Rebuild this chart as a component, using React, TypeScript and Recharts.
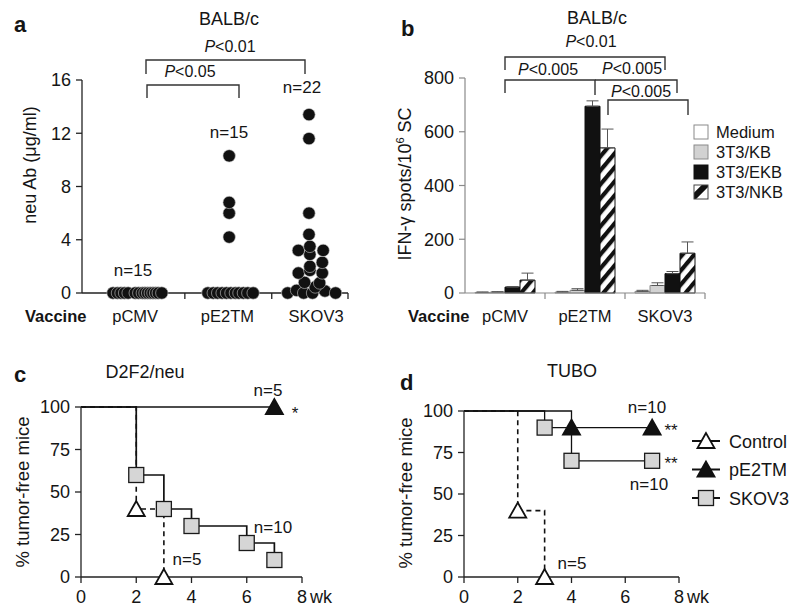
import React from "react"
import {
  ScatterChart,
  Scatter,
  BarChart,
  Bar,
  ErrorBar,
  LineChart,
  Line,
  XAxis,
  YAxis,
} from "recharts"

const FONT = '"Liberation Sans", Arial, Helvetica, sans-serif'
const INK = "#151515"

// ---- panel a: neu antibody, one dot per mouse (x = jitter position inside the group) ----
const vaccines = ["pCMV", "pE2TM", "SKOV3"]
const vaccineCentersA = [6.0, 16.4, 26.4]
const groupBoundsA = [11.6, 21.4, 30]
const abPCMV = [
  { x: 3.5, y: 0 }, { x: 4.0, y: 0 }, { x: 4.4, y: 0 }, { x: 4.8, y: 0 }, { x: 5.2, y: 0 },
  { x: 6.0, y: 0 }, { x: 6.4, y: 0 }, { x: 6.8, y: 0 }, { x: 7.1, y: 0 }, { x: 7.4, y: 0 },
  { x: 7.7, y: 0 }, { x: 8.0, y: 0 }, { x: 8.3, y: 0 }, { x: 8.6, y: 0 }, { x: 9.0, y: 0 },
]
const abPE2TM = [
  { x: 14.2, y: 0 }, { x: 14.8, y: 0 }, { x: 15.3, y: 0 }, { x: 15.8, y: 0 }, { x: 16.3, y: 0 },
  { x: 16.8, y: 0 }, { x: 17.3, y: 0 }, { x: 17.7, y: 0 }, { x: 18.2, y: 0 }, { x: 18.7, y: 0 },
  { x: 19.3, y: 0 },
  { x: 16.6, y: 4.2 }, { x: 16.6, y: 6.0 }, { x: 16.6, y: 6.8 }, { x: 16.6, y: 10.3 },
]
const abSKOV3 = [
  { x: 23.2, y: 0 }, { x: 24.2, y: 0.2 }, { x: 25.0, y: 0 }, { x: 26.0, y: 0 }, { x: 27.4, y: 0.15 },
  { x: 28.6, y: 0 }, { x: 26.3, y: 0.45 }, { x: 25.1, y: 0.8 }, { x: 26.8, y: 0.75 },
  { x: 24.4, y: 1.5 }, { x: 25.7, y: 1.7 }, { x: 27.1, y: 1.5 }, { x: 25.7, y: 2.0 },
  { x: 27.1, y: 2.3 }, { x: 25.7, y: 2.9 }, { x: 24.4, y: 3.2 }, { x: 27.2, y: 3.2 },
  { x: 25.7, y: 3.5 }, { x: 25.6, y: 4.4 }, { x: 25.6, y: 6.0 }, { x: 25.6, y: 11.6 },
  { x: 25.6, y: 13.4 },
]
const abTicks = [0, 4, 8, 12, 16]

// ---- panel b: IFN-gamma ELISPOT, upward error only ----
const targets = ["Medium", "3T3/KB", "3T3/EKB", "3T3/NKB"]
const spotMedium = [2, 3, 6]
const spotKB = [3, 10, 28]
const spotEKB = [22, 695, 72]
const spotNKB = [48, 540, 148]
const errMedium = [2, 3, 4]
const errKB = [2, 6, 10]
const errEKB = [2, 20, 8]
const errNKB = [26, 70, 42]
const spotTicks = [0, 200, 400, 600, 800]

// ---- panels c/d: % tumor-free mice by week ----
const weekTicks = [0, 2, 4, 6, 8]
const pctTicks = [0, 25, 50, 75, 100]
const cControl = [{ x: 0, y: 100 }, { x: 2, y: 40 }, { x: 3, y: 0 }]
const cPE2TM = [{ x: 0, y: 100 }, { x: 7, y: 100 }]
const cSKOV3 = [
  { x: 0, y: 100 }, { x: 2, y: 60 }, { x: 3, y: 40 }, { x: 4, y: 30 }, { x: 6, y: 20 }, { x: 7, y: 10 },
]
const dControl = [{ x: 0, y: 100 }, { x: 2, y: 40 }, { x: 3, y: 0 }]
const dPE2TM = [{ x: 0, y: 100 }, { x: 4, y: 90 }, { x: 7, y: 90 }]
const dSKOV3 = [{ x: 0, y: 100 }, { x: 3, y: 90 }, { x: 4, y: 70 }, { x: 7, y: 70 }]
const survivalNames = ["Control", "pE2TM", "SKOV3"]

const spotRows = vaccines.map((v, i) => ({
  cat: v,
  medium: spotMedium[i],
  kb: spotKB[i],
  ekb: spotEKB[i],
  nkb: spotNKB[i],
  mediumE: [0, errMedium[i]],
  kbE: [0, errKB[i]],
  ekbE: [0, errEKB[i]],
  nkbE: [0, errNKB[i]],
}))

const tickFont = { fontSize: 18, fill: INK, fontFamily: FONT }
const labelFont = { fontSize: 16.5, fill: INK, fontFamily: FONT }
const axisLine = { stroke: "#222", strokeWidth: 1.3 }

function Dot(props: any) {
  const { cx, cy } = props
  return <circle cx={cx} cy={cy} r={6.2} fill="#111" stroke="#c8c8c8" strokeWidth={0.6} />
}

function Marker({ kind, cx, cy }: { kind: string; cx: number; cy: number }) {
  if (kind === "sq")
    return <rect x={cx - 7.5} y={cy - 7.5} width={15} height={15} fill="#d6d6d6" stroke="#1a1a1a" strokeWidth={1.3} />
  const pts = `${cx},${cy - 8} ${cx - 8.5},${cy + 7} ${cx + 8.5},${cy + 7}`
  return <polygon points={pts} fill={kind === "open" ? "#fff" : "#111"} stroke="#111" strokeWidth={1.8} strokeLinejoin="miter" />
}

const stepDot = (kind: string) => (p: any) => {
  if (p.index === 0) return <g key={`d${kind}${p.index}`} />
  return (
    <g key={`d${kind}${p.index}`}>
      <Marker kind={kind} cx={p.cx} cy={p.cy} />
    </g>
  )
}

function WeekTick(props: any) {
  const { x, y, payload } = props
  if (payload.value === 8) {
    return (
      <g>
        <text x={x} y={y} dy="0.71em" textAnchor="middle" {...tickFont}>8</text>
        <text x={x + 8} y={y} dy="0.71em" textAnchor="start" {...tickFont}>wk</text>
      </g>
    )
  }
  return (
    <text x={x} y={y} dy="0.71em" textAnchor="middle" {...tickFont}>
      {payload.value}
    </text>
  )
}

// panel a: group boundaries get a tick mark, group centres get the vaccine name
function GroupTickA(props: any) {
  const { x, y, payload } = props
  const k = vaccineCentersA.indexOf(payload.value)
  if (k >= 0) {
    return (
      <text x={x} y={y + 17} dy="0.71em" textAnchor="middle" {...labelFont}>
        {vaccines[k]}
      </text>
    )
  }
  return <line x1={x} x2={x} y1={y} y2={y + 6} stroke="#222" strokeWidth={1.3} />
}

// panel b: category name under the band, tick mark at the band's right edge
function GroupTickB(props: any) {
  const { x, y, payload } = props
  const half = payload?.offset ?? 40
  return (
    <g>
      <line x1={x + half} x2={x + half} y1={y} y2={y + 6} stroke="#8a8a8a" strokeWidth={1.2} />
      <text x={x} y={y + 17} dy="0.71em" textAnchor="middle" {...labelFont}>
        {payload.value}
      </text>
    </g>
  )
}

const ticksA = [...vaccineCentersA, ...groupBoundsA].sort((p, q) => p - q)

function PanelA() {
  return (
    <ScatterChart width={400} height={340} margin={{ top: 80, right: 52, bottom: 46, left: 22 }}>
      <XAxis type="number" dataKey="x" domain={[0, 30]} ticks={ticksA} interval={0} height={1}
        tickLine={false} tickSize={0} tickMargin={0} tick={<GroupTickA />} axisLine={axisLine} />
      <YAxis type="number" dataKey="y" domain={[0, 16]} ticks={abTicks} width={60}
        tickSize={6} tickMargin={5} tick={tickFont} axisLine={axisLine} tickLine={axisLine} />
      <Scatter data={abPCMV} shape={Dot} isAnimationActive={false} />
      <Scatter data={abPE2TM} shape={Dot} isAnimationActive={false} />
      <Scatter data={abSKOV3} shape={Dot} isAnimationActive={false} />
    </ScatterChart>
  )
}

function PanelB() {
  const grey = { stroke: "#8a8a8a", strokeWidth: 1.2 }
  return (
    <BarChart width={400} height={340} data={spotRows} barCategoryGap="12.5%" barGap={0}
      margin={{ top: 78, right: 95, bottom: 46, left: 5 }}>
      <defs>
        <pattern id="hatchB" patternUnits="userSpaceOnUse" width="9" height="9" patternTransform="rotate(40)">
          <rect width="9" height="9" fill="#fff" />
          <rect width="4.2" height="9" fill="#111" />
        </pattern>
      </defs>
      <XAxis dataKey="cat" height={1} interval={0} axisLine={grey} tickLine={false} tickSize={0} tickMargin={0}
        tick={<GroupTickB />} />
      <YAxis domain={[0, 800]} ticks={spotTicks} width={60} tickSize={6} tickMargin={5}
        tick={tickFont} axisLine={grey} tickLine={grey} />
      <Bar dataKey="medium" fill="#fff" stroke="#8a8a8a" strokeWidth={1} isAnimationActive={false}>
        <ErrorBar dataKey="mediumE" width={6} stroke="#555" strokeWidth={1} direction="y" />
      </Bar>
      <Bar dataKey="kb" fill="#d2d2d2" stroke="#8a8a8a" strokeWidth={1} isAnimationActive={false}>
        <ErrorBar dataKey="kbE" width={6} stroke="#555" strokeWidth={1} direction="y" />
      </Bar>
      <Bar dataKey="ekb" fill="#111" stroke="#111" strokeWidth={1} isAnimationActive={false}>
        <ErrorBar dataKey="ekbE" width={6} stroke="#555" strokeWidth={1} direction="y" />
      </Bar>
      <Bar dataKey="nkb" fill="url(#hatchB)" stroke="#111" strokeWidth={1} isAnimationActive={false}>
        <ErrorBar dataKey="nkbE" width={6} stroke="#555" strokeWidth={1} direction="y" />
      </Bar>
    </BarChart>
  )
}

function Survival({ margin, control, pe2tm, skov3, sw }: any) {
  return (
    <LineChart width={400} height={304} margin={margin}>
      <XAxis type="number" dataKey="x" domain={[0, 8]} ticks={weekTicks} interval={0} height={1}
        tickSize={6} tickMargin={7} tick={<WeekTick />} axisLine={axisLine} tickLine={axisLine} />
      <YAxis type="number" dataKey="y" domain={[0, 100]} ticks={pctTicks} width={60}
        tickSize={6} tickMargin={5} tick={tickFont} axisLine={axisLine} tickLine={axisLine} />
      <Line data={control} dataKey="y" type="stepAfter" stroke="#111" strokeWidth={1.6}
        strokeDasharray="5 4" dot={stepDot("open")} isAnimationActive={false} />
      <Line data={skov3} dataKey="y" type="stepAfter" stroke="#111" strokeWidth={sw}
        dot={stepDot("sq")} isAnimationActive={false} />
      <Line data={pe2tm} dataKey="y" type="stepAfter" stroke="#111" strokeWidth={sw}
        dot={stepDot("fill")} isAnimationActive={false} />
    </LineChart>
  )
}

function T({ x, y, size = 17, anchor = "middle", bold = false, children }: any) {
  return (
    <text x={x} y={y} fontSize={size} textAnchor={anchor} fontWeight={bold ? "bold" : "normal"} fill={INK} fontFamily={FONT}>
      {children}
    </text>
  )
}

function PLabel({ x, y, v }: { x: number; y: number; v: string }) {
  return (
    <text x={x} y={y} fontSize={16} textAnchor="middle" fill={INK} fontFamily={FONT}>
      <tspan fontStyle="italic">P</tspan>
      {v}
    </text>
  )
}

function Bracket({ x1, x2, y, l1, l2 }: { x1: number; x2: number; y: number; l1: number; l2: number }) {
  return <path d={`M${x1},${l1} V${y} H${x2} V${l2}`} fill="none" stroke="#333" strokeWidth={1.4} />
}

function Overlay() {
  const legendB = [
    { fill: "#fff", stroke: "#8a8a8a" },
    { fill: "#d2d2d2", stroke: "#8a8a8a" },
    { fill: "#111", stroke: "#111" },
    { fill: "url(#hatchL)", stroke: "#444" },
  ]
  const legendD = ["open", "fill", "sq"]
  return (
    <svg width={800} height={614} style={{ position: "absolute", left: 0, top: 0, pointerEvents: "none" }}>
      <defs>
        <pattern id="hatchL" patternUnits="userSpaceOnUse" width="14" height="14" patternTransform="translate(694,187) rotate(45)">
          <rect width="14" height="14" fill="#fff" />
          <rect x="4" width="6" height="14" fill="#111" />
        </pattern>
      </defs>

      {/* a */}
      <T x={14} y={32} size={22} anchor="start" bold>a</T>
      <T x={229} y={25} size={18}>BALB/c</T>
      <PLabel x={230} y={52} v="<0.01" />
      <Bracket x1={146} x2={305} y={60} l1={74} l2={74} />
      <PLabel x={190} y={77} v="<0.05" />
      <Bracket x1={147} x2={239} y={85} l1={98} l2={98} />
      <T x={302} y={93}>n=22</T>
      <T x={229} y={138}>n=15</T>
      <T x={133} y={276}>n=15</T>
      <text transform="translate(36,165) rotate(-90)" fontSize={18} textAnchor="middle" fill={INK} fontFamily={FONT}>
        neu Ab (μg/ml)
      </text>
      <T x={25} y={322} size={16.5} anchor="start" bold>Vaccine</T>

      {/* b */}
      <T x={401} y={36} size={22} anchor="start" bold>b</T>
      <T x={597} y={24} size={18}>BALB/c</T>
      <PLabel x={591} y={47} v="<0.01" />
      <Bracket x1={505} x2={665} y={57} l1={70} l2={70} />
      <PLabel x={548} y={75} v="<0.005" />
      <Bracket x1={505} x2={595} y={80} l1={93} l2={95} />
      <PLabel x={632} y={74} v="<0.005" />
      <Bracket x1={595} x2={677} y={80} l1={80} l2={93} />
      <PLabel x={641} y={97} v="<0.005" />
      <Bracket x1={608} x2={688} y={100} l1={115} l2={115} />
      <text transform="translate(411,184) rotate(-90)" fontSize={18} textAnchor="middle" fill={INK} fontFamily={FONT}>
        IFN-γ spots/10<tspan fontSize={11} dy={-7}>6</tspan><tspan dy={7}> SC</tspan>
      </text>
      <T x={408} y={322} size={16.5} anchor="start" bold>Vaccine</T>
      {targets.map((t, i) => (
        <g key={t}>
          <rect x={694} y={125 + i * 20} width={14} height={14} fill={legendB[i].fill} stroke={legendB[i].stroke} strokeWidth={1} />
          <T x={716} y={138 + i * 20} size={16.5} anchor="start">{t}</T>
        </g>
      ))}

      {/* c */}
      <T x={14} y={382} size={22} anchor="start" bold>c</T>
      <T x={145} y={378} size={18}>D2F2/neu</T>
      <T x={268} y={396}>n=5</T>
      <T x={295} y={419}>*</T>
      <T x={273} y={533}>n=10</T>
      <T x={187} y={565}>n=5</T>
      <text transform="translate(29,492) rotate(-90)" fontSize={18.5} textAnchor="middle" fill={INK} fontFamily={FONT}>
        % tumor-free mice
      </text>

      {/* d */}
      <T x={400} y={390} size={22} anchor="start" bold>d</T>
      <T x={572} y={377} size={18}>TUBO</T>
      <T x={647} y={413}>n=10</T>
      <T x={671} y={436}>**</T>
      <T x={671} y={469}>**</T>
      <T x={649} y={490}>n=10</T>
      <T x={572} y={569}>n=5</T>
      <text transform="translate(412,493) rotate(-90)" fontSize={18.5} textAnchor="middle" fill={INK} fontFamily={FONT}>
        % tumor-free mice
      </text>
      {survivalNames.map((n, i) => (
        <g key={n}>
          <line x1={692} x2={720} y1={441 + i * 28.5} y2={441 + i * 28.5} stroke="#111" strokeWidth={2} />
          <Marker kind={legendD[i]} cx={706} cy={441 + i * 28.5} />
          <T x={729} y={447.5 + i * 28.5} size={18} anchor="start">{n}</T>
        </g>
      ))}
    </svg>
  )
}

export default function App() {
  return (
    <div style={{ position: "absolute", left: 0, top: 0, width: 800, height: 614, background: "#fff", fontFamily: FONT, overflow: "hidden" }}>
      <div style={{ position: "absolute", left: 0, top: 0 }}>
        <PanelA />
      </div>
      <div style={{ position: "absolute", left: 400, top: 0 }}>
        <PanelB />
      </div>
      <div style={{ position: "absolute", left: 0, top: 310 }}>
        <Survival margin={{ top: 97, right: 98, bottom: 36, left: 21 }} control={cControl} pe2tm={cPE2TM} skov3={cSKOV3} sw={1.7} />
      </div>
      <div style={{ position: "absolute", left: 400, top: 310 }}>
        <Survival margin={{ top: 101, right: 121, bottom: 36, left: 4 }} control={dControl} pe2tm={dPE2TM} skov3={dSKOV3} sw={1.3} />
      </div>
      <Overlay />
    </div>
  )
}
